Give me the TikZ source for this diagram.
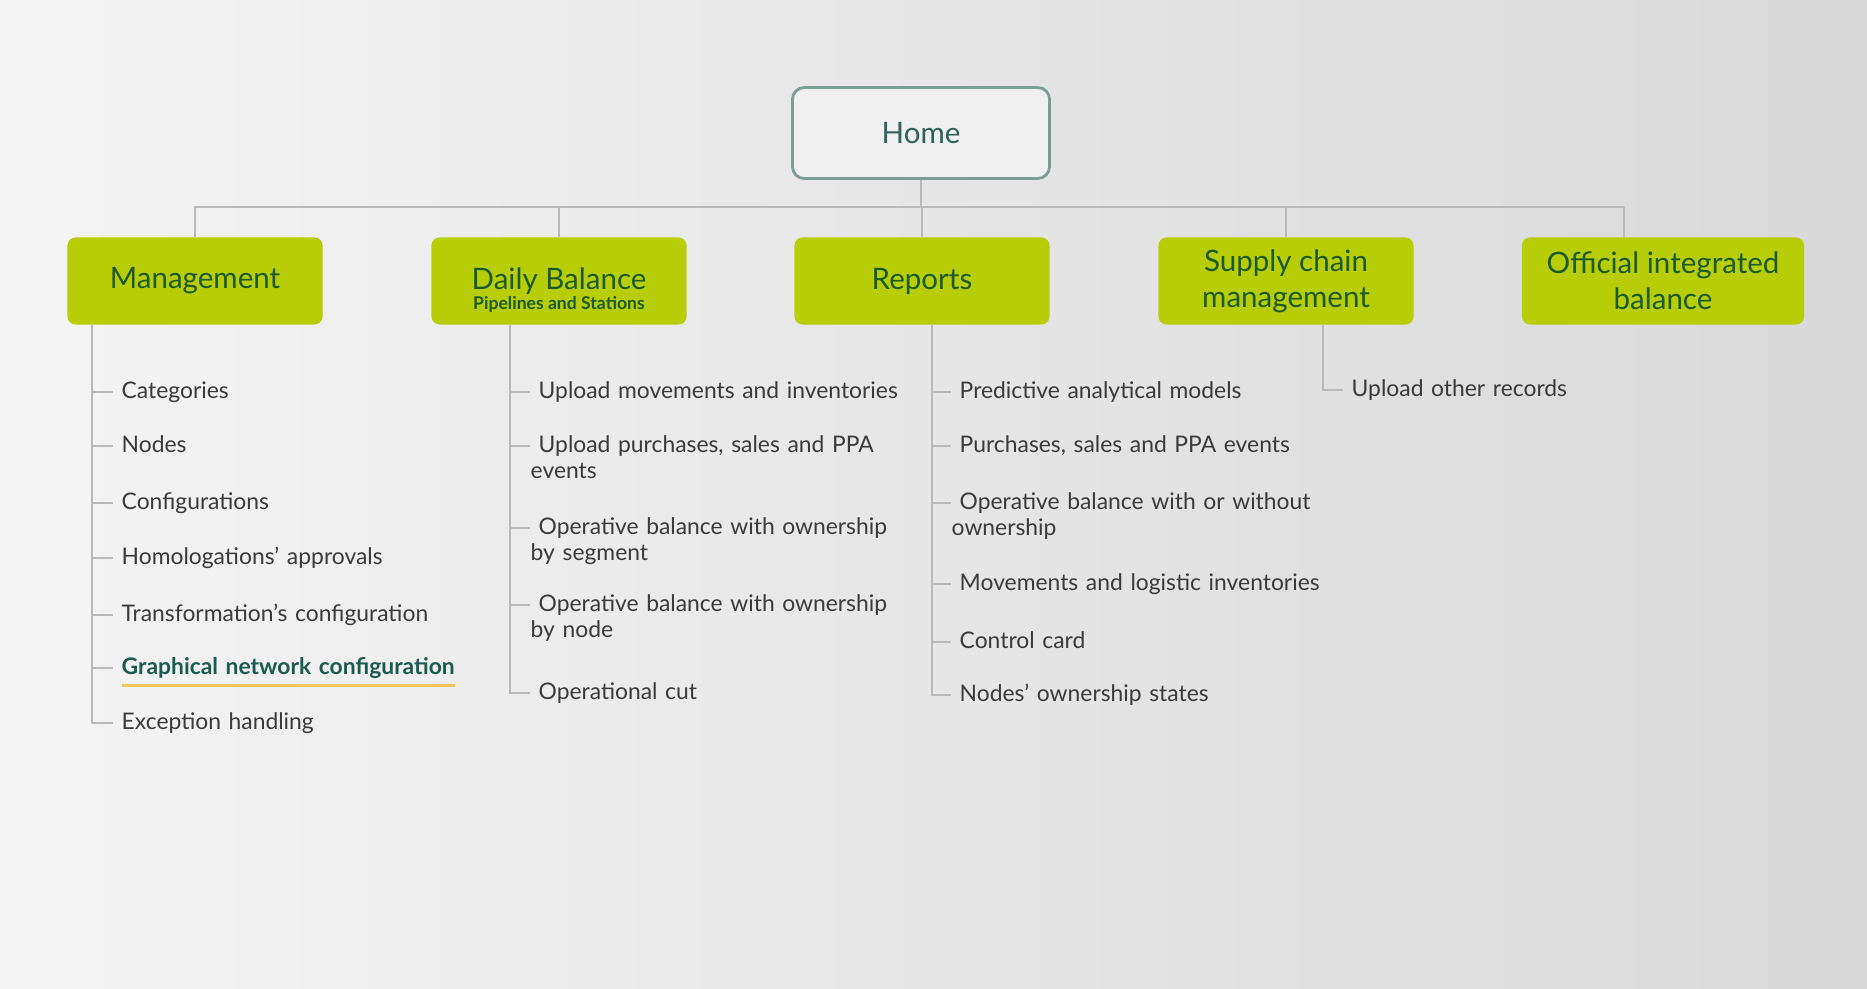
\documentclass[tikz,border=0pt]{standalone}
\usepackage{fontspec}
\setmainfont{Lato}
\usetikzlibrary{calc}

\definecolor{bgl}{HTML}{F4F4F4}
\definecolor{bgr}{HTML}{D8D8D8}
\definecolor{boxgreen}{HTML}{B6CD08}
\definecolor{titlegreen}{HTML}{1D5A2A}
\definecolor{homeline}{HTML}{7C9C96}
\definecolor{homefill}{HTML}{EFEFEF}
\definecolor{hometext}{HTML}{2D6159}
\definecolor{linegray}{HTML}{B9B9B9}
\definecolor{itemtext}{HTML}{3A3A3A}
\definecolor{hltext}{HTML}{1B5A4E}
\definecolor{hlline}{HTML}{EEC65A}

% yellow bar under the selected entry
\newcommand{\hlmark}[1]{\setbox0\hbox{#1}\rlap{\color{hlline}\rule[-3.6pt]{\wd0}{0.85pt}}\box0}

\begin{document}
\begin{tikzpicture}[x=0.01cm, y=-0.01cm,
  home/.style ={draw=homeline, line width=0.8pt, rounded corners=3.4pt,
                fill=homefill, minimum width=2.57cm, minimum height=0.91cm,
                font=\fontsize{8.4}{10}\selectfont, text=hometext},
  sect/.style ={fill=boxgreen, rounded corners=2.3pt, minimum width=2.55cm,
                minimum height=0.87cm, align=center, text=titlegreen,
                font=\fontsize{8.4}{10.2}\selectfont},
  sub/.style  ={inner sep=0pt, text=titlegreen,
                font=\fontsize{5}{5.5}\selectfont\bfseries},
  item/.style ={anchor=base west, inner sep=0pt, text width=4.2cm, align=left,
                text=itemtext, font=\fontsize{6.5}{7.4}\selectfont},
  link/.style ={draw=linegray, line width=0.7pt},
]
\shade[left color=bgl, right color=bgr] (0,0) rectangle (1867,988);
\useasboundingbox (0,0) rectangle (1867,988);

% ============================ top level ======================================
\node[home] (home) at (921,133) {Home};

\foreach \n/\x/\t in {mgmt/195/Management, daily/559/Daily Balance,
                      reports/922/Reports, supply/1286/{Supply chain\\management}} {
  \node[sect] (\n) at (\x,281) {\t};
}
\node[sect, minimum width=2.82cm] (official) at (1663,281) {Official integrated\\balance};
\node[sub] (dsub) at (559,304) {Pipelines and Stations};

\coordinate (bar) at (921,207);
\coordinate (offtap) at ([xshift=-0.39cm]official.north);
\draw[link] (home.south) -- (bar);
\draw[link] (mgmt.north) |- (bar) -| (offtap);
\foreach \n in {daily,reports,supply} {
  \draw[link] (\n.north) -- (\n.north |- bar);
}

% ============================ Management ====================================
\coordinate (mtr) at ([xshift=0.25cm]mgmt.south west);
\foreach \i/\y/\t in {1/392/Categories, 2/446/Nodes, 3/503/Configurations,
    4/558/Homologations’ approvals, 5/615/Transformation’s configuration,
    6/668/{\hlmark{\bfseries\color{hltext}Graphical network configuration}},
    7/723/Exception handling} {
  \node[item] (m\i) at (113,\y+6) {\hspace*{0.08cm}\t};
  \coordinate (mk\i) at ([yshift=0.06cm]m\i.base west);
  \draw[link] (mtr |- mk\i) -- (mk\i);
}
\draw[link] (mtr) |- (mk7);

% ============================ Daily Balance =================================
\coordinate (dtr) at ([xshift=0.79cm]daily.south west);
\foreach \i/\y/\t in {1/392/Upload movements and inventories,
    2/446/{Upload purchases, sales and PPA\\events},
    3/528/{Operative balance with ownership\\by segment},
    4/605/{Operative balance with ownership\\by node},
    5/693/Operational cut} {
  \node[item] (d\i) at (530,\y+6) {\hspace*{0.08cm}\t};
  \coordinate (dk\i) at ([yshift=0.06cm]d\i.base west);
  \draw[link] (dtr |- dk\i) -- (dk\i);
}
\draw[link] (dtr) |- (dk5);

% ============================ Reports =======================================
\coordinate (rtr) at ([xshift=1.38cm]reports.south west);
\foreach \i/\y/\t in {1/392/Predictive analytical models,
    2/446/{Purchases, sales and PPA events},
    3/503/{Operative balance with or without\\ownership},
    4/584/Movements and logistic inventories,
    5/642/Control card,
    6/695/Nodes’ ownership states} {
  \node[item] (r\i) at (951,\y+6) {\hspace*{0.08cm}\t};
  \coordinate (rk\i) at ([yshift=0.06cm]r\i.base west);
  \draw[link] (rtr |- rk\i) -- (rk\i);
}
\draw[link] (rtr) |- (rk6);

% ============================ Supply chain ==================================
\coordinate (str) at ([xshift=1.65cm]supply.south west);
\node[item] (s1) at (1343,396) {\hspace*{0.08cm}Upload other records};
\coordinate (sk1) at ([yshift=0.06cm]s1.base west);
\draw[link] (str) |- (sk1);

\end{tikzpicture}
\end{document}
